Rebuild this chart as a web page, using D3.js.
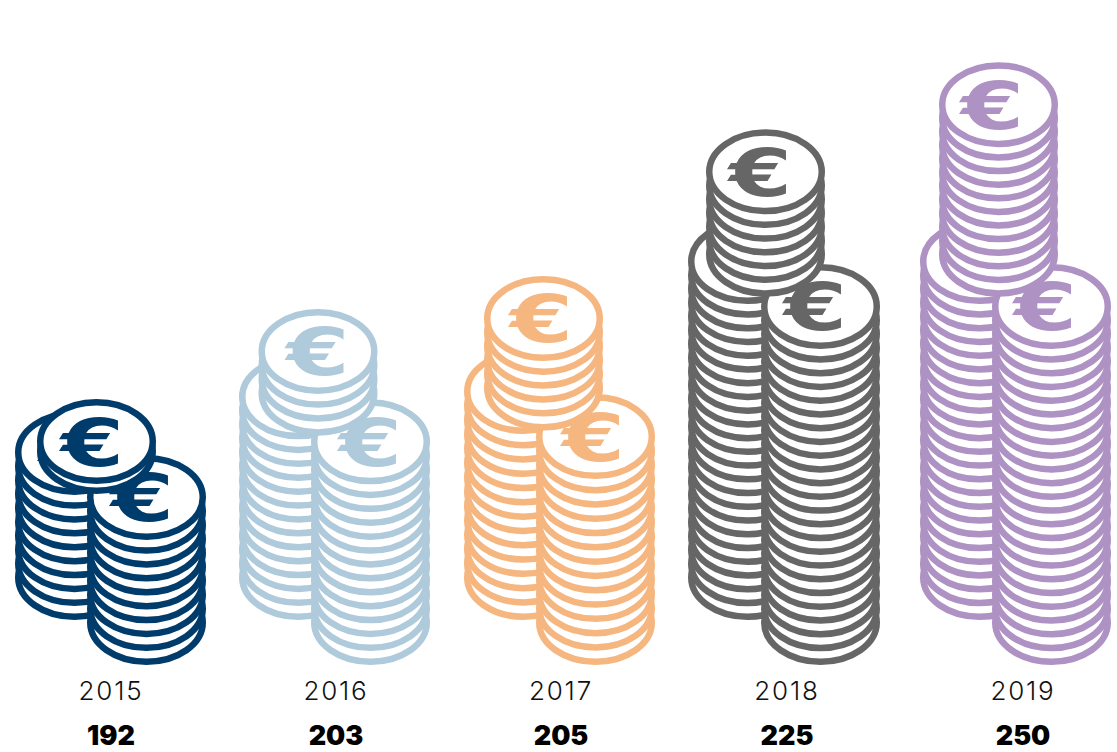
<!DOCTYPE html>
<html>
<head>
<meta charset="utf-8">
<script src="https://cdn.jsdelivr.net/npm/d3@7"></script>
<style>
	html, body { margin: 0; padding: 0; background: #fff; }
	svg { display: block; }
</style>
</head>
<body>
<div id="chart"></div>
<script>
	// coins drawn per year
	var years = ["2015", "2016", "2017", "2018", "2019"];
	var totals = [192, 203, 205, 225, 250];
	var leftCoins = [10, 14, 14, 24, 24];
	var rightCoins = [10, 14, 14, 24, 24];
	var topCoins = [2, 4, 6, 7, 12];

	// layout and style only
	var w = 1117, h = 752;
	var colors = ["#003c6b", "#aecadb", "#f6b67f", "#666666", "#ae92c3"];
	var labelCenters = [111, 336, 561, 787, 1023];
	var leftCenters = [74.5, 298.5, 523.5, 747.5, 979.5];
	var rightCenters = [146.5, 370.5, 595.5, 820.5, 1051.5];
	var topCenters = [96.5, 318, 543.5, 765.5, 998.5];
	var coinSteps = [13.9, 13.9, 14.3, 13.74, 13.74];
	var topSteps = [10, 13.9, 13.9, 13.74, 13.6];
	var topRests = [12.3, 16.5, 16.4, 26.8, 26.8];
	var euroShift = [-4, 0, -2, -5, -6];
	var rightBase = 622.5, leftBase = 577.5;
	var rx = 56.25, ry = 39.25, strokeW = 6.5;

	var labelX = d3.scaleOrdinal(years, labelCenters);
	var color = d3.scaleOrdinal(years, colors);

	var svg = d3.select("#chart").append("svg")
		.attr("width", w)
		.attr("height", h);

	function stackOf(kind, i) {
		var count, cx, base, step;
		step = coinSteps[i];
		if (kind === "left") { count = leftCoins[i]; cx = leftCenters[i]; base = leftBase; }
		if (kind === "right") { count = rightCoins[i]; cx = rightCenters[i]; base = rightBase; }
		if (kind === "top") {
			count = topCoins[i];
			cx = topCenters[i];
			base = rightBase - topRests[i] * coinSteps[i];
			step = topSteps[i];
		}
		// coin number -> y of its centre
		var y = d3.scaleLinear().domain([0, 1]).range([base, base - step]);
		return { kind: kind, year: years[i], i: i, cx: cx, y: y, coins: d3.range(count) };
	}

	var stacks = [];
	years.forEach(function (d, i) {
		stacks.push(stackOf("left", i), stackOf("right", i), stackOf("top", i));
	});

	var groups = svg.selectAll("g.stack")
		.data(stacks)
		.enter()
		.append("g")
		.attr("class", "stack");

	groups.selectAll("ellipse")
		.data(function (s) { return s.coins.map(function (c) { return { c: c, s: s }; }); })
		.enter()
		.append("ellipse")
		.attr("cx", function (d) { return d.s.cx; })
		.attr("cy", function (d) { return d.s.y(d.c); })
		.attr("rx", rx)
		.attr("ry", ry)
		.attr("fill", "#fff")
		.attr("stroke", function (d) { return color(d.s.year); })
		.attr("stroke-width", strokeW);

	// the left stacks' euro is covered by the top stack, only 2015 shows a sliver
	groups.filter(function (s) { return s.kind !== "left" || s.i === 0; })
		.append("text")
		.text("€")
		.attr("transform", function (s) {
			var top = s.y(s.coins.length - 1);
			return "translate(" + (s.cx + euroShift[s.i]) + "," + (top + 24) + ") scale(1.4,1)";
		})
		.attr("text-anchor", "middle")
		.attr("font-family", "'DejaVu Sans', sans-serif")
		.attr("font-weight", 700)
		.attr("font-size", 65)
		.attr("fill", function (s) { return color(s.year); });

	svg.selectAll("text.year")
		.data(years)
		.enter()
		.append("text")
		.attr("class", "year")
		.text(function (d) { return d; })
		.attr("x", function (d) { return labelX(d); })
		.attr("y", 700)
		.attr("text-anchor", "middle")
		.attr("font-family", "Inter, sans-serif")
		.attr("font-weight", 300)
		.attr("font-size", 26)
		.attr("letter-spacing", 1.8)
		.attr("fill", "#111");

	svg.selectAll("text.total")
		.data(totals)
		.enter()
		.append("text")
		.attr("class", "total")
		.text(function (d) { return d; })
		.attr("x", function (d, i) { return labelX(years[i]); })
		.attr("y", 745)
		.attr("text-anchor", "middle")
		.attr("font-family", "Inter, sans-serif")
		.attr("font-weight", 900)
		.attr("font-size", 27)
		.attr("fill", "#000");
</script>
</body>
</html>
